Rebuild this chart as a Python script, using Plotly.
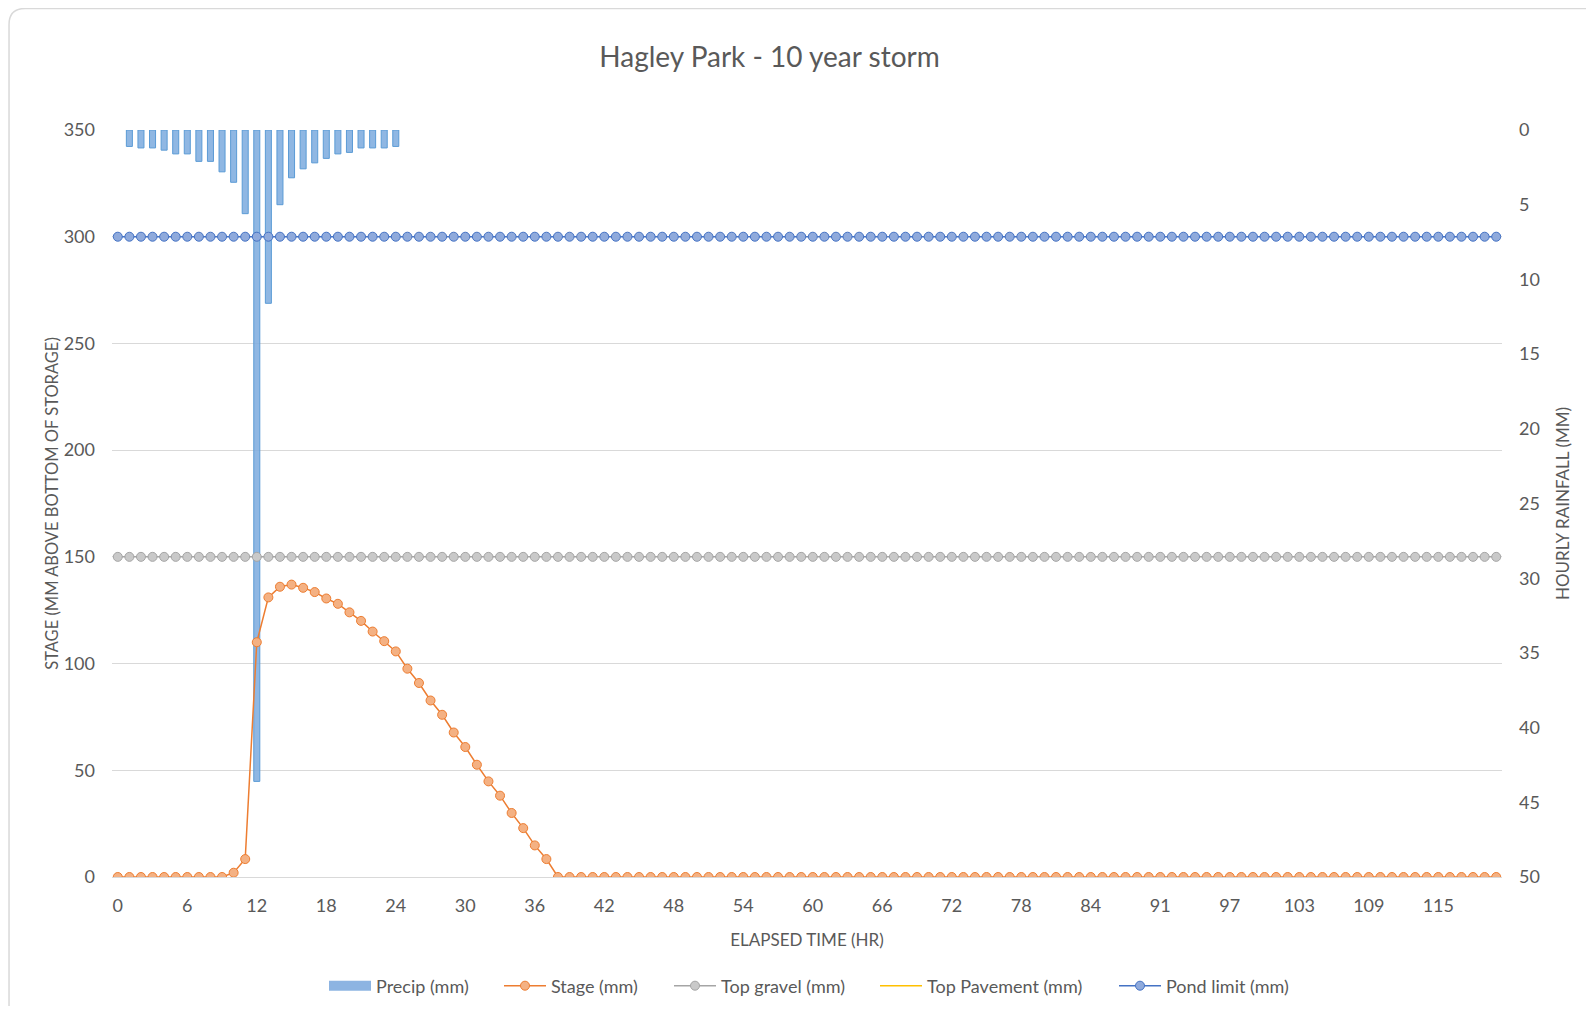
import plotly.graph_objects as go

# ---------------- data ----------------
n_steps = 120
hours = list(range(n_steps))  # category index (hourly steps)

tick_index = [0, 6, 12, 18, 24, 30, 36, 42, 48, 54, 60, 66, 72, 78, 84, 90, 96, 102, 108, 114]
tick_labels = ["0", "6", "12", "18", "24", "30", "36", "42", "48", "54", "60", "66",
               "72", "78", "84", "91", "97", "103", "109", "115"]

precip_idx = list(range(1, 25))
precip_mm = [1.1, 1.2, 1.2, 1.35, 1.6, 1.6, 2.1, 2.1, 2.8, 3.5, 5.6, 43.6,
             11.6, 5.0, 3.2, 2.6, 2.2, 1.9, 1.6, 1.5, 1.2, 1.2, 1.2, 1.1]

stage_mm = ([0] * 10 +
            [2, 8.4, 110, 131, 136, 137, 135.5, 133.5, 130.5, 128, 124, 120, 115, 110.5,
             105.7, 97.6, 90.9, 82.7, 76, 67.7, 60.9, 52.6, 44.8, 38.1, 30, 22.9, 14.8, 8.4] +
            [0] * 82)
top_gravel_mm = [150] * n_steps
top_pavement_mm = [None] * n_steps
pond_limit_mm = [300] * n_steps

stage_ticks = [0, 50, 100, 150, 200, 250, 300, 350]
rain_ticks = [0, 5, 10, 15, 20, 25, 30, 35, 40, 45, 50]

# ---------------- layout constants ----------------
OFF = 8                      # page body margin
W, H = 1578, 998
ML, MT = 112 - OFF, 130 - OFF
PR, PB = 1502.5 - OFF, 877 - OFF
MR, MB = W - PR, H - PB
PW, PH = PR - ML, PB - MT
FONT = "Lato"
GREY_TXT = "#595959"
GRID = "#D9D9D9"
STAGE_MAX, RAIN_MAX = 350, 50
BAR_FILL = "rgba(123,170,222,0.85)"
BAR_EDGE = "#5B9BD5"

# legend text start positions (page px) for each entry
legend_text_x = [376, 551, 721, 927, 1166]
LEG_TEXT_OFFSET = 52
LEG_Y = 986


def xp(px):
    return (px - OFF - ML) / PW


def yp(py):
    return (PB - (py - OFF)) / PH


fig = go.Figure()

fig.add_trace(go.Bar(
    x=precip_idx, y=precip_mm, name="Precip (mm)", yaxis="y", width=0.52,
    marker=dict(color=BAR_FILL, line=dict(color=BAR_EDGE, width=1)),
    showlegend=False, legendgroup="precip",
))
# legend entry for the precipitation bars (wide rectangle symbol)
fig.add_trace(go.Scatter(
    x=[None], y=[None], name="Precip (mm)", yaxis="y", mode="lines",
    line=dict(color="#8DB4E2", width=10), legendgroup="precip", legend="legend",
    hoverinfo="skip",
))
fig.add_trace(go.Scatter(
    x=hours, y=stage_mm, name="Stage (mm)", yaxis="y2", mode="lines+markers",
    line=dict(color="#ED7D31", width=1.5), legend="legend2",
    marker=dict(symbol="circle", size=9, color="#F4B183", line=dict(color="#ED7D31", width=1)),
))
fig.add_trace(go.Scatter(
    x=hours, y=top_gravel_mm, name="Top gravel (mm)", yaxis="y2", mode="lines+markers",
    line=dict(color="#A5A5A5", width=1.5), legend="legend3",
    marker=dict(symbol="circle", size=9, color="#C9C9C9", line=dict(color="#A5A5A5", width=1)),
))
fig.add_trace(go.Scatter(
    x=hours, y=top_pavement_mm, name="Top Pavement (mm)", yaxis="y2", mode="lines",
    line=dict(color="#FFC000", width=1.5), legend="legend4",
))
fig.add_trace(go.Scatter(
    x=hours, y=pond_limit_mm, name="Pond limit (mm)", yaxis="y2", mode="lines+markers",
    line=dict(color="#4472C4", width=1.5), legend="legend5",
    marker=dict(symbol="circle", size=9, color="#8FAADC", line=dict(color="#4472C4", width=1)),
))

tickfont = dict(family=FONT, size=18, color=GREY_TXT)

# border of chart area (decoration), given in page pixels
L, T, R, B, r = 9, 8.5, 1620, 1030, 16
path = (f"M {xp(L)},{yp(T + r)} Q {xp(L)},{yp(T)} {xp(L + r)},{yp(T)} "
        f"L {xp(R)},{yp(T)} L {xp(R)},{yp(B)} L {xp(L + r)},{yp(B)} "
        f"Q {xp(L)},{yp(B)} {xp(L)},{yp(B - r)} Z")


def legend_box(text_x):
    return dict(orientation="h", xref="container", yref="container",
                x=(text_x - LEG_TEXT_OFFSET - OFF) / W, xanchor="left",
                y=1 - (LEG_Y - OFF) / H, yanchor="middle",
                font=dict(family=FONT, size=18, color=GREY_TXT), itemwidth=42,
                bgcolor="rgba(0,0,0,0)")


fig.update_layout(
    width=W, height=H,
    margin=dict(l=ML, r=MR, t=MT, b=MB, autoexpand=False),
    paper_bgcolor="white", plot_bgcolor="white",
    font=dict(family=FONT, color=GREY_TXT),
    title=dict(text="Hagley Park - 10 year storm", x=(769.5 - OFF) / W, xref="container",
               xanchor="center", y=1 - (57 - OFF) / H, yref="container", yanchor="middle",
               font=dict(family=FONT, size=28, color=GREY_TXT)),
    showlegend=True,
    legend=legend_box(legend_text_x[0]),
    legend2=legend_box(legend_text_x[1]),
    legend3=legend_box(legend_text_x[2]),
    legend4=legend_box(legend_text_x[3]),
    legend5=legend_box(legend_text_x[4]),
    xaxis=dict(range=[-0.5, n_steps - 0.5], tickmode="array", tickvals=tick_index,
               ticktext=tick_labels, showgrid=False, zeroline=False, showline=True,
               linecolor=GRID, linewidth=1, ticks="", tickfont=tickfont, ticklabelstandoff=12,
               title=dict(text="ELAPSED TIME (HR)", font=dict(family=FONT, size=17, color=GREY_TXT),
                          standoff=19),
               automargin=False, anchor="y"),
    # base axis: rainfall (hidden labels, carries the stage gridlines)
    yaxis=dict(range=[RAIN_MAX, 0], tickmode="array",
               tickvals=[v * RAIN_MAX / STAGE_MAX for v in stage_ticks],
               showticklabels=False, showgrid=True, gridcolor=GRID, gridwidth=1,
               zeroline=False, ticks="", side="right", automargin=False),
    # stage axis (left)
    yaxis2=dict(range=[0, STAGE_MAX], tickmode="array", tickvals=stage_ticks,
                overlaying="y", side="left", showgrid=False, zeroline=False, ticks="",
                tickfont=tickfont, ticklabelstandoff=16, automargin=False,
                title=dict(text="STAGE (MM ABOVE BOTTOM OF STORAGE)",
                           font=dict(family=FONT, size=16.5, color=GREY_TXT), standoff=0)),
    # rainfall labels (right)
    yaxis3=dict(range=[RAIN_MAX, 0], tickmode="array", tickvals=rain_ticks,
                overlaying="y", side="right", showgrid=False, zeroline=False, ticks="",
                tickfont=tickfont, ticklabelstandoff=16, automargin=False,
                title=dict(text="HOURLY RAINFALL (MM)",
                           font=dict(family=FONT, size=17, color=GREY_TXT), standoff=18)),
    shapes=[dict(type="path", path=path, xref="paper", yref="paper",
                 line=dict(color="#D9D9D9", width=1.5), fillcolor="rgba(0,0,0,0)", layer="below")],
)

# invisible helper trace so the right-hand label axis is rendered
fig.add_trace(go.Scatter(x=[None], y=[None], yaxis="y3", showlegend=False, hoverinfo="skip"))

fig.write_html("out.html")
